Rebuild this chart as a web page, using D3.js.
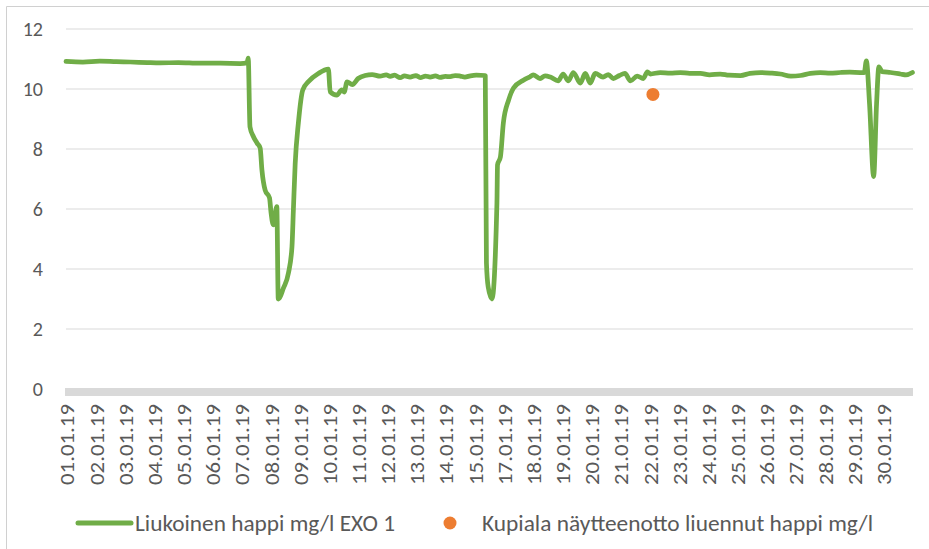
<!DOCTYPE html>
<html>
<head>
<meta charset="utf-8">
<script src="https://cdn.jsdelivr.net/npm/d3@7"></script>
<style>
  body { margin: 0; background: #fff; }
  text { font-family: Carlito, Calibri, Lato, sans-serif; fill: #595959; }
</style>
</head>
<body>
<script>
// category axis labels (16.01.19 is not shown on the original axis)
var dateLabels = ["01.01.19", "02.01.19", "03.01.19", "04.01.19", "05.01.19", "06.01.19", "07.01.19", "08.01.19",
  "09.01.19", "10.01.19", "11.01.19", "12.01.19", "13.01.19", "14.01.19", "15.01.19", "17.01.19", "18.01.19",
  "19.01.19", "20.01.19", "21.01.19", "22.01.19", "23.01.19", "24.01.19", "25.01.19", "26.01.19", "27.01.19",
  "28.01.19", "29.01.19", "30.01.19"];

// position along the category axis (0 = first label) and dissolved oxygen mg/l
var exoPos = [-0.05, 0.53, 1.11, 1.68, 2.15, 2.74, 3.18, 3.80, 4.55, 5.25, 5.92, 6.16, 6.20, 6.26, 6.38, 6.50, 6.61, 6.67,
  6.78, 6.93, 6.98, 7.06, 7.18, 7.23, 7.41, 7.58, 7.70, 7.75, 7.81, 7.92, 8.07, 8.26, 8.61, 8.95, 9.01, 9.24, 9.41, 9.49,
  9.59, 9.77, 9.97, 10.21, 10.45, 10.72, 10.93, 11.07, 11.22, 11.41, 11.56, 11.75, 11.95, 12.10, 12.28, 12.44, 12.62,
  12.78, 12.96, 13.13, 13.30, 13.47, 13.63, 13.82, 14.02, 14.33, 14.37, 14.43, 14.56, 14.73, 14.75, 14.85, 14.95, 15.13,
  15.30, 15.65, 15.87, 15.97, 16.21, 16.38, 16.56, 16.83, 17.00, 17.18, 17.35, 17.59, 17.76, 17.93, 18.10, 18.37, 18.55,
  18.72, 18.93, 19.12, 19.31, 19.54, 19.75, 19.89, 19.99, 20.33, 20.67, 21.02, 21.34, 21.71, 22.02, 22.39, 22.69, 23.08,
  23.41, 23.77, 24.14, 24.45, 24.81, 25.14, 25.48, 25.82, 26.16, 26.51, 26.83, 27.19, 27.33, 27.40, 27.51, 27.65, 27.75,
  27.83, 27.94, 28.23, 28.57, 28.76, 28.98];
var exoValue = [10.92, 10.90, 10.93, 10.91, 10.90, 10.88, 10.87, 10.88, 10.86, 10.86, 10.85, 10.87, 11.03, 8.74, 8.41,
  8.20, 8.03, 7.30, 6.63, 6.37, 5.90, 5.47, 6.08, 3.00, 3.37, 3.87, 4.74, 6.00, 7.50, 8.87, 9.97, 10.24, 10.52, 10.66,
  9.91, 9.80, 9.97, 9.90, 10.24, 10.15, 10.35, 10.45, 10.48, 10.43, 10.47, 10.42, 10.46, 10.38, 10.44, 10.40, 10.45,
  10.38, 10.43, 10.40, 10.44, 10.39, 10.42, 10.41, 10.45, 10.43, 10.40, 10.44, 10.46, 10.45, 4.20, 3.40, 3.00, 6.20,
  7.47, 7.74, 8.87, 9.63, 10.03, 10.30, 10.41, 10.47, 10.35, 10.44, 10.40, 10.27, 10.50, 10.27, 10.55, 10.20, 10.52,
  10.20, 10.52, 10.40, 10.48, 10.35, 10.45, 10.52, 10.27, 10.43, 10.35, 10.57, 10.50, 10.55, 10.53, 10.55, 10.52,
  10.52, 10.47, 10.50, 10.46, 10.45, 10.52, 10.55, 10.53, 10.50, 10.43, 10.45, 10.52, 10.55, 10.53, 10.55, 10.56,
  10.55, 10.55, 10.94, 9.50, 7.08, 9.50, 10.74, 10.58, 10.55, 10.50, 10.47, 10.55];

// sample taken at Kupiala
var samplePos = [20.08];
var sampleValue = [9.82];

var yTicks = [0, 2, 4, 6, 8, 10, 12];
var seriesNames = ["Liukoinen happi mg/l EXO 1", "Kupiala näytteenotto liuennut happi mg/l"];

var width = 929, height = 549;

var svg = d3.select("body").append("svg")
  .attr("width", width)
  .attr("height", height);

// chart frame (only left and top edges show in the screenshot)
svg.append("path")
  .attr("d", "M6.5,549V6.5H929")
  .attr("fill", "none")
  .attr("stroke", "#d0d0d0");

var x = d3.scaleLinear()
  .domain([-0.05, 29])
  .range([66, 913]);
var y = d3.scaleLinear()
  .domain([0, 12])
  .range([389, 29]);

// gridlines
svg.append("g").selectAll("line")
  .data(yTicks.filter(function (d) { return d > 0; }))
  .enter().append("line")
    .attr("x1", 66).attr("x2", 913)
    .attr("y1", function (d) { return y(d); })
    .attr("y2", function (d) { return y(d); })
    .attr("stroke", "#d9d9d9")
    .attr("stroke-width", 1.2);

// thick base axis line
svg.append("rect")
  .attr("x", 65).attr("width", 848)
  .attr("y", y(0) - 1).attr("height", 8)
  .attr("fill", "#d9d9d9");

// y labels
svg.append("g").selectAll("text")
  .data(yTicks)
  .enter().append("text")
    .attr("x", 43)
    .attr("y", function (d) { return y(d); })
    .attr("text-anchor", "end")
    .attr("dominant-baseline", "central")
    .style("font-size", "20px")
    .text(function (d) { return d; });

// x labels
svg.append("g").selectAll("text")
  .data(dateLabels)
  .enter().append("text")
    .attr("transform", function (d, i) { return "translate(" + x(i) + ",404) rotate(-90)"; })
    .attr("text-anchor", "end")
    .attr("dominant-baseline", "central")
    .style("font-size", "20px")
    .attr("textLength", 81)
    .attr("lengthAdjust", "spacingAndGlyphs")
    .text(function (d) { return d; });

// sensor line
var pts = exoPos.map(function (d, i) { return [d, exoValue[i]]; });
var line = d3.line()
  .x(function (d) { return x(d[0]); })
  .y(function (d) { return y(d[1]); })
  .curve(d3.curveMonotoneX);

svg.append("path")
  .datum(pts)
  .attr("d", line)
  .attr("fill", "none")
  .attr("stroke", "#70AD47")
  .attr("stroke-width", 4.75)
  .attr("stroke-linejoin", "round")
  .attr("stroke-linecap", "round");

// sample point
svg.append("g").selectAll("circle")
  .data(samplePos)
  .enter().append("circle")
    .attr("cx", function (d) { return x(d); })
    .attr("cy", function (d, i) { return y(sampleValue[i]); })
    .attr("r", 6.5)
    .attr("fill", "#ED7D31");

// legend
var lg = svg.append("g");
lg.append("line")
  .attr("x1", 78).attr("x2", 131)
  .attr("y1", 523).attr("y2", 523)
  .attr("stroke", "#70AD47")
  .attr("stroke-width", 5)
  .attr("stroke-linecap", "round");
lg.append("text")
  .attr("x", 135).attr("y", 523)
  .attr("dominant-baseline", "central")
  .style("font-size", "22px")
  .attr("textLength", 260)
  .attr("lengthAdjust", "spacingAndGlyphs")
  .text(seriesNames[0]);
lg.append("circle")
  .attr("cx", 450).attr("cy", 523)
  .attr("r", 6.5)
  .attr("fill", "#ED7D31");
lg.append("text")
  .attr("x", 482).attr("y", 523)
  .attr("dominant-baseline", "central")
  .style("font-size", "22px")
  .attr("textLength", 391)
  .attr("lengthAdjust", "spacingAndGlyphs")
  .text(seriesNames[1]);
</script>
</body>
</html>
